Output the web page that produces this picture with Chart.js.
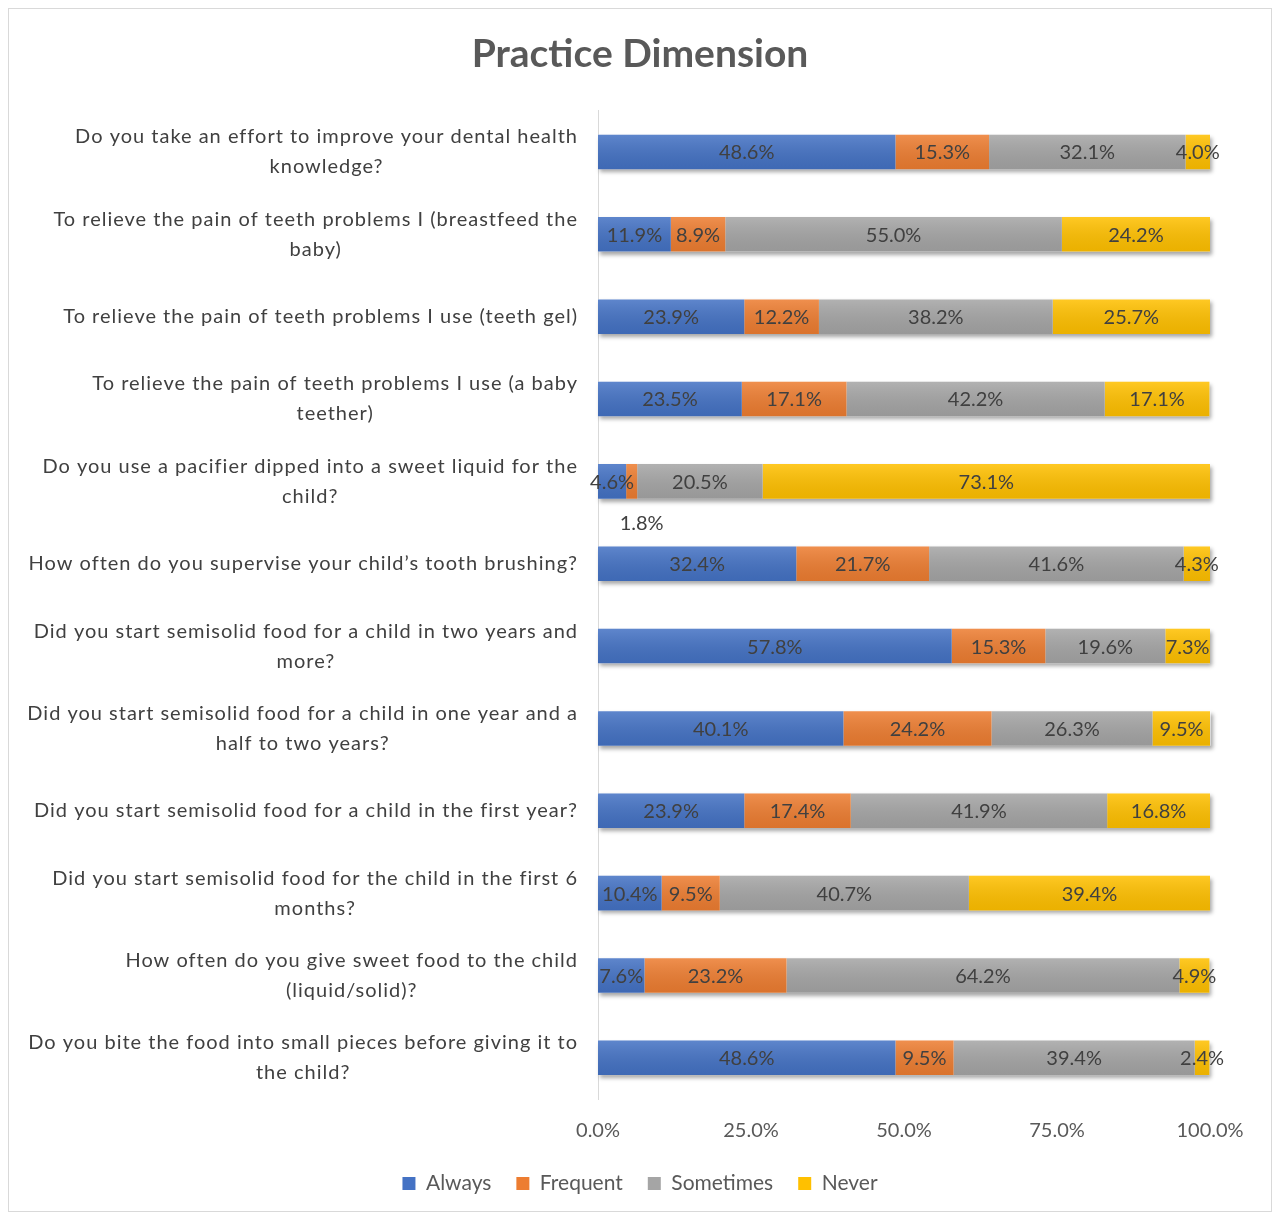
<!DOCTYPE html>
<html>
<head>
<meta charset="utf-8">
<script src="https://cdn.jsdelivr.net/npm/chart.js@4/dist/chart.umd.min.js"></script>
<style>
  html, body { margin: 0; padding: 0; background: #fff; }
  #wrap { position: relative; width: 1280px; height: 1215px; }
  #frame { position: absolute; left: 8px; top: 8px; width: 1264px; height: 1204px; border: 1px solid #d9d9d9; box-sizing: border-box; }
  #box { position: absolute; left: 0; top: 0; width: 1280px; height: 1215px; }
</style>
</head>
<body>
<div id="wrap">
  <div id="frame"></div>
  <div id="box"><canvas id="c"></canvas></div>
</div>
<script>
const title = "Practice Dimension";
const categories = [
  ["Do you take an effort to improve your dental health", "knowledge?"],
  ["To relieve the pain of teeth problems I (breastfeed the", "baby)"],
  "To relieve the pain of teeth problems I use (teeth gel)",
  ["To relieve the pain of teeth problems I use (a baby", "teether)"],
  ["Do you use a pacifier dipped into a sweet liquid for the", "child?"],
  "How often do you supervise your child\u2019s tooth brushing?",
  ["Did you start semisolid food for a child in two years and", "more?"],
  ["Did you start semisolid food for a child in one year and a", "half to two years?"],
  "Did you start semisolid food for a child in the first year?",
  ["Did you start semisolid food for the child in the first 6", "months?"],
  ["How often do you give sweet food to the child", "(liquid/solid)?"],
  ["Do you bite the food into small pieces before giving it to", "the child?"]
];
const seriesNames = ["Always", "Frequent", "Sometimes", "Never"];
const always    = [48.6, 11.9, 23.9, 23.5, 4.6, 32.4, 57.8, 40.1, 23.9, 10.4, 7.6, 48.6];
const frequent  = [15.3, 8.9, 12.2, 17.1, 1.8, 21.7, 15.3, 24.2, 17.4, 9.5, 23.2, 9.5];
const sometimes = [32.1, 55.0, 38.2, 42.2, 20.5, 41.6, 19.6, 26.3, 41.9, 40.7, 64.2, 39.4];
const never     = [4.0, 24.2, 25.7, 17.1, 73.1, 4.3, 7.3, 9.5, 16.8, 39.4, 4.9, 2.4];
const xTicks = [0, 25, 50, 75, 100];
const colors = ["#4472C4", "#ED7D31", "#A5A5A5", "#FFC000"];

const FONT = "Lato, 'Open Sans', sans-serif";

const rowShadow = {
  id: 'rowShadow',
  beforeDatasetsDraw(chart) {
    const ctx = chart.ctx;
    const n = chart.data.labels.length;
    const metas = chart.data.datasets.map((d, i) => chart.getDatasetMeta(i));
    for (let j = 0; j < n; j++) {
      let left = Infinity, right = -Infinity, y = 0, h = 0;
      metas.forEach(m => {
        const b = m.data[j];
        if (!b) return;
        const p = b.getProps(['x', 'y', 'base', 'height'], true);
        left = Math.min(left, p.base, p.x);
        right = Math.max(right, p.base, p.x);
        y = p.y; h = p.height;
      });
      ctx.save();
      ctx.shadowColor = 'rgba(0,0,0,0.35)';
      ctx.shadowBlur = 4;
      ctx.shadowOffsetX = 2;
      ctx.shadowOffsetY = 3;
      ctx.fillStyle = '#ffffff';
      ctx.fillRect(left, y - h / 2, right - left, h);
      ctx.restore();
    }
  }
};

const barDecor = {
  id: 'barDecor',
  afterDatasetsDraw(chart) {
    const ctx = chart.ctx;
    chart.data.datasets.forEach((ds, i) => {
      const meta = chart.getDatasetMeta(i);
      meta.data.forEach(b => {
        const p = b.getProps(['x', 'y', 'base', 'height'], true);
        const g = ctx.createLinearGradient(0, p.y - p.height / 2, 0, p.y + p.height / 2);
        g.addColorStop(0, 'rgba(255,255,255,0.14)');
        g.addColorStop(1, 'rgba(0,0,0,0.08)');
        ctx.save();
        ctx.fillStyle = g;
        ctx.fillRect(Math.min(p.x, p.base), p.y - p.height / 2, Math.abs(p.x - p.base), p.height);
        ctx.restore();
      });
    });
    ctx.save();
    ctx.font = "20px " + FONT;
    ctx.fillStyle = '#404040';
    ctx.textAlign = 'center';
    ctx.textBaseline = 'middle';
    chart.data.datasets.forEach((ds, i) => {
      const meta = chart.getDatasetMeta(i);
      meta.data.forEach((b, j) => {
        const v = ds.data[j];
        const p = b.getProps(['x', 'y', 'base', 'height'], true);
        const cx = (p.x + p.base) / 2;
        const txt = v.toFixed(1) + '%';
        if (v < 2) {
          ctx.fillText(txt, cx + 10, p.y + 42);
        } else {
          ctx.fillText(txt, cx, p.y + 1);
        }
      });
    });
    ctx.restore();
  }
};

const catLabels = {
  id: 'catLabels',
  afterDraw(chart) {
    const ctx = chart.ctx;
    const ys = chart.scales.y;
    const R = 578;
    const lh = 30;
    ctx.save();
    ctx.font = "20px " + FONT;
    ctx.letterSpacing = '1px';
    ctx.fillStyle = '#404040';
    ctx.textAlign = 'center';
    ctx.textBaseline = 'middle';
    chart.data.labels.forEach((lab, j) => {
      const lines = Array.isArray(lab) ? lab : [lab];
      const w = Math.max(...lines.map(l => ctx.measureText(l).width));
      const cx = R - w / 2;
      const cy = ys.getPixelForValue(j);
      lines.forEach((l, k) => {
        ctx.fillText(l, cx, cy - (lines.length - 1) * lh / 2 + k * lh);
      });
    });
    ctx.letterSpacing = '0px';
    ctx.restore();
  }
};

const chart = new Chart(document.getElementById('c'), {
  type: 'bar',
  data: {
    labels: categories,
    datasets: [always, frequent, sometimes, never].map((d, i) => ({
      label: seriesNames[i],
      data: d,
      backgroundColor: colors[i],
      borderWidth: 0,
      barPercentage: 0.42,
      categoryPercentage: 1.0
    }))
  },
  options: {
    indexAxis: 'y',
    responsive: true,
    maintainAspectRatio: false,
    animation: false,
    layout: { padding: { top: 10, left: 0, right: 0, bottom: 11 } },
    scales: {
      x: {
        stacked: true,
        min: 0, max: 100,
        afterBuildTicks(scale) { scale.ticks = xTicks.map(v => ({ value: v })); },
        afterFit(scale) { scale.height -= 15; },
        grid: { display: false, drawTicks: false },
        border: { display: false },
        ticks: {
          padding: 20,
          color: '#595959',
          font: { family: FONT, size: 20 },
          callback: v => Number(v).toFixed(1) + '%'
        }
      },
      y: {
        stacked: true,
        afterFit(scale) { scale.width = 598; },
        grid: { display: false, drawTicks: false },
        border: { display: true, color: '#d9d9d9', width: 1 },
        ticks: { display: false }
      },
      yRight: {
        type: 'category',
        axis: 'y',
        position: 'right',
        afterFit(scale) { scale.width = 70; },
        grid: { display: false, drawTicks: false },
        border: { display: false },
        ticks: { display: false }
      }
    },
    plugins: {
      title: {
        display: true,
        text: title,
        color: '#595959',
        font: { family: FONT, size: 39, weight: 'bold' },
        padding: { top: 21, bottom: 33 }
      },
      legend: {
        position: 'bottom',
        labels: {
          color: '#595959',
          font: { family: FONT, size: 21 },
          boxWidth: 13,
          boxHeight: 13,
          padding: 25
        }
      },
      tooltip: { enabled: false }
    }
  },
  plugins: [rowShadow, barDecor, catLabels]
});
</script>
</body>
</html>
